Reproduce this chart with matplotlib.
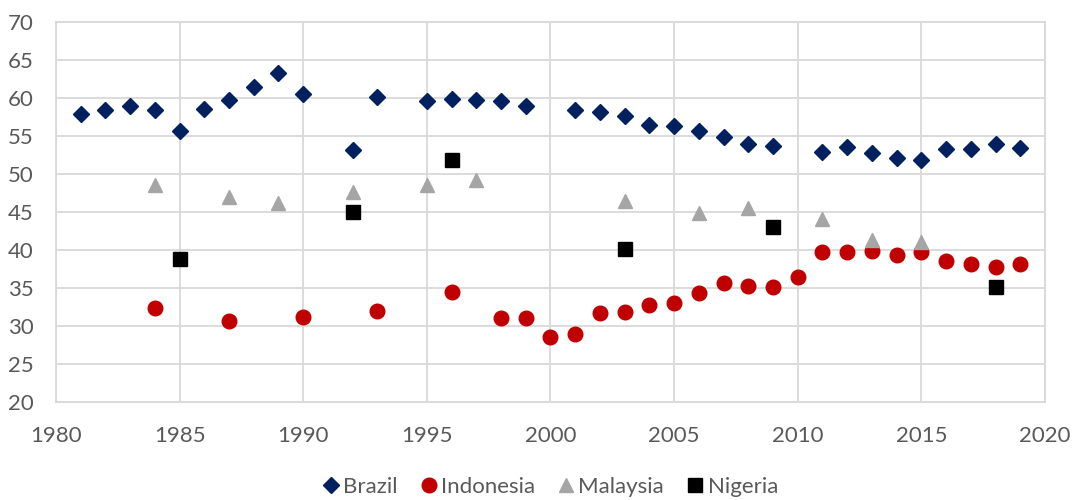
import matplotlib
matplotlib.use("Agg")
import matplotlib.pyplot as plt

# data
brazil_years = [1981, 1982, 1983, 1984, 1985, 1986, 1987, 1988, 1989, 1990, 1992, 1993,
                1995, 1996, 1997, 1998, 1999, 2001, 2002, 2003, 2004, 2005, 2006, 2007,
                2008, 2009, 2011, 2012, 2013, 2014, 2015, 2016, 2017, 2018, 2019]
brazil_vals = [57.9, 58.4, 59.0, 58.4, 55.6, 58.5, 59.7, 61.4, 63.3, 60.5, 53.2, 60.1,
               59.6, 59.9, 59.8, 59.6, 59.0, 58.4, 58.1, 57.6, 56.5, 56.3, 55.6, 54.9,
               54.0, 53.7, 52.9, 53.5, 52.8, 52.1, 51.9, 53.3, 53.3, 53.9, 53.4]

indonesia_years = [1984, 1987, 1990, 1993, 1996, 1998, 1999, 2000, 2001, 2002, 2003, 2004,
                   2005, 2006, 2007, 2008, 2009, 2010, 2011, 2012, 2013, 2014, 2015, 2016,
                   2017, 2018, 2019]
indonesia_vals = [32.4, 30.6, 31.2, 32.0, 34.5, 31.1, 31.1, 28.6, 29.0, 31.7, 31.9, 32.7,
                  33.0, 34.3, 35.7, 35.2, 35.1, 36.4, 39.7, 39.7, 39.9, 39.4, 39.7, 38.6,
                  38.1, 37.8, 38.2]

malaysia_years = [1984, 1987, 1989, 1992, 1995, 1997, 2003, 2006, 2008, 2011, 2013, 2015]
malaysia_vals = [48.6, 47.0, 46.2, 47.6, 48.5, 49.2, 46.4, 44.9, 45.5, 44.1, 41.3, 41.1]

nigeria_years = [1985, 1992, 1996, 2003, 2009, 2018]
nigeria_vals = [38.8, 45.0, 51.9, 40.1, 43.0, 35.1]

plt.rcParams['font.family'] = ['Lato', 'DejaVu Sans']

fig = plt.figure(figsize=(10.72, 5), dpi=100)
ax = fig.add_axes([0.0522, 0.196, 0.9226, 0.760])

ax.plot(brazil_years, brazil_vals, linestyle='none', marker='D', markersize=8.5,
        color='#002060', label='Brazil', zorder=3)
ax.plot(indonesia_years, indonesia_vals, linestyle='none', marker='o', markersize=10.5,
        color='#C00000', label='Indonesia', zorder=3)
ax.plot(malaysia_years, malaysia_vals, linestyle='none', marker='^', markersize=10.5,
        color='#A5A5A5', label='Malaysia', zorder=3)
ax.plot(nigeria_years, nigeria_vals, linestyle='none', marker='s', markersize=10.3,
        color='black', label='Nigeria', zorder=3)

ax.set_xlim(1980, 2020)
ax.set_ylim(20, 70)
ax.set_xticks(range(1980, 2021, 5))
ax.set_yticks(range(20, 71, 5))
ax.grid(True, color='#d9d9d9', linewidth=1.3, zorder=0)
ax.set_axisbelow(True)
for sp in ax.spines.values():
    sp.set_color('#d9d9d9')
    sp.set_linewidth(1.3)
ax.tick_params(axis='y', length=0, labelsize=16, labelcolor='#595959', pad=16)
ax.tick_params(axis='x', length=0, labelsize=16, labelcolor='#595959', pad=17)

fig.legend(loc='center', bbox_to_anchor=(0.512, 0.026), ncol=4, frameon=False,
           fontsize=16, labelcolor='#595959', handletextpad=0.05, columnspacing=0.9,
           handlelength=1.0, borderpad=0)

fig.savefig('out.png', dpi=100)
